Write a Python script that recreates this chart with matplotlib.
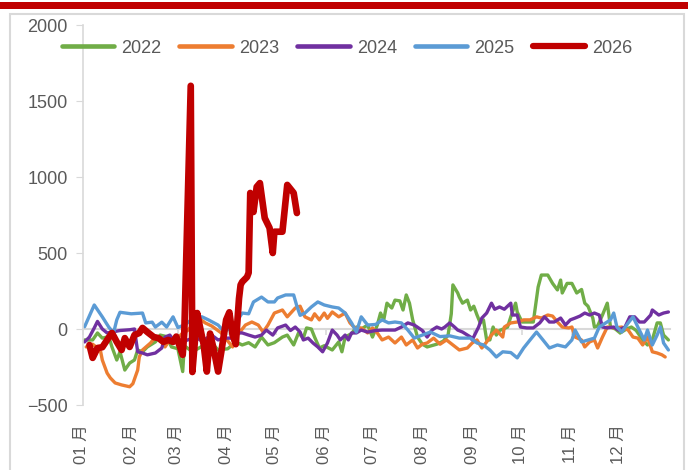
import numpy as np
import matplotlib
matplotlib.use("Agg")
import matplotlib.pyplot as plt
import matplotlib.transforms as mtransforms
from matplotlib.patches import Rectangle

# (day of year, value)
s2022 = [(1,-72),(6,-72),(9,-26),(12,-60),(16,-50),(18,-118),(21,-204),(23,-150),(26,-270),(29,-224),(32,-204),(34,-138),(37,-150),(40,-118),(45,-85),(48,-40),(52,-50),(55,-118),(59,-130),(62,-280),(63,-110),(68,-150),(73,-120),(76,-100),(80,-92),(84,-138),(90,-130),(95,-85),(99,-105),(103,-90),(107,-118),(111,-53),(115,-105),(119,-90),(124,-53),(127,-40),(131,-105),(134,-26),(137,-60),(139,7),(142,0),(144,-53),(147,-125),(150,-110),(155,-138),(159,-85),(161,-150),(163,-53),(167,-30),(170,13),(173,0),(177,26),(180,-53),(183,26),(185,105),(187,60),(189,170),(192,138),(194,190),(197,185),(199,125),(201,224),(203,170),(205,60),(208,-53),(211,-100),(214,-118),(220,-100),(224,-80),(227,-40),(229,100),(230,290),(233,237),(234,210),(236,170),(239,190),(241,125),(243,150),(245,92),(247,40),(249,60),(251,-72),(253,-72),(255,13),(257,-40),(259,-10),(264,13),(266,80),(269,170),(270,112),(273,46),(276,46),(280,46),(283,276),(285,355),(289,355),(292,300),(295,257),(297,322),(298,237),(301,300),(304,300),(307,237),(310,260),(312,170),(314,150),(317,72),(318,13),(320,20),(323,92),(326,170),(328,13),(331,0),(334,-26),(338,0),(341,13),(344,-10),(348,-72),(351,-105),(354,-72),(357,40),(359,40),(361,-40),(364,-72)]
s2023 = [(2,-118),(6,-100),(9,-125),(11,-150),(12,-204),(15,-290),(17,-322),(20,-355),(24,-368),(29,-380),(31,-360),(34,-270),(35,-184),(37,-138),(42,-92),(45,-53),(48,-60),(51,-118),(54,-72),(57,-80),(62,-26),(65,-10),(72,72),(76,40),(80,20),(86,-26),(93,-118),(96,-40),(101,26),(105,46),(109,26),(112,-20),(115,26),(119,105),(124,125),(127,80),(132,138),(135,150),(138,80),(142,60),(144,100),(147,60),(150,105),(152,70),(155,112),(159,80),(163,105),(166,40),(169,7),(173,7),(177,-26),(180,7),(183,-26),(186,-72),(190,-53),(194,-92),(198,-53),(201,-105),(205,-72),(208,-125),(211,-100),(214,-92),(218,-60),(222,-100),(226,-72),(230,-105),(234,-138),(239,-125),(242,-92),(245,-72),(248,-125),(251,-85),(254,-40),(257,-7),(261,-53),(262,13),(266,40),(270,46),(274,60),(278,60),(282,80),(285,72),(289,92),(292,85),(295,46),(298,13),(302,7),(304,13),(306,-53),(310,-72),(312,-118),(315,-85),(318,-72),(320,-125),(323,-53),(326,13),(331,7),(335,13),(339,-7),(342,-53),(345,-60),(348,-105),(351,-53),(354,-150),(357,-158),(360,-170),(362,-184)]
s2024 = [(1,-85),(4,-53),(7,7),(9,50),(12,0),(15,-26),(18,-20),(23,-10),(29,-5),(32,0),(34,-150),(37,-158),(40,-170),(45,-158),(49,-125),(51,-53),(54,-40),(57,-85),(63,-80),(70,-53),(74,-80),(80,-40),(84,-72),(88,-60),(93,-60),(96,-26),(99,-26),(103,-40),(107,-53),(111,-40),(114,-7),(118,-40),(121,7),(126,26),(129,-10),(132,13),(135,-20),(137,-72),(140,-60),(143,-92),(146,-118),(149,-150),(152,-92),(155,-7),(158,-40),(160,-72),(163,-40),(165,-72),(167,-26),(170,-26),(173,-7),(177,-20),(182,-10),(186,-7),(190,-7),(194,-7),(198,13),(202,40),(206,26),(211,-10),(214,-53),(217,-7),(220,13),(223,0),(225,13),(228,40),(231,13),(233,-7),(236,-20),(241,-53),(242,-72),(246,13),(248,72),(251,105),(254,170),(256,130),(259,145),(262,130),(266,170),(267,92),(270,92),(272,13),(276,7),(280,7),(284,40),(287,80),(290,46),(293,46),(297,72),(300,26),(303,60),(306,72),(309,85),(312,105),(315,92),(318,105),(321,92),(323,13),(326,7),(330,13),(333,-7),(337,13),(340,80),(343,80),(346,46),(349,46),(353,92),(354,125),(358,92),(361,105),(364,112)]
s2025 = [(1,15),(7,158),(12,80),(16,13),(19,-26),(21,60),(23,110),(30,100),(37,105),(39,40),(43,45),(45,13),(49,45),(52,13),(56,80),(59,10),(63,26),(70,80),(74,80),(78,60),(84,26),(88,-20),(95,40),(99,105),(103,100),(106,178),(111,210),(115,178),(119,178),(121,204),(126,224),(131,224),(133,150),(135,90),(138,105),(142,145),(146,178),(150,158),(155,145),(159,138),(163,105),(167,40),(170,-20),(173,80),(177,26),(182,30),(186,60),(190,40),(194,46),(198,40),(202,-7),(206,-60),(211,-40),(216,-20),(222,-50),(228,-45),(234,-60),(241,-60),(245,-92),(249,-105),(253,-138),(257,-184),(261,-150),(266,-155),(270,-190),(274,-125),(278,-72),(282,-20),(286,-72),(290,-125),(295,-105),(300,-118),(304,-72),(306,-7),(310,-85),(318,-60),(321,13),(325,40),(328,60),(330,105),(332,13),(335,-20),(339,40),(342,80),(345,13),(349,-72),(351,-7),(354,-105),(357,-40),(359,13),(361,-92),(364,-138)]
s2026 = [(4,-105),(6,-190),(9,-125),(12,-120),(15,-72),(18,-26),(21,-85),(24,-138),(26,-60),(29,-118),(32,-40),(35,-26),(37,7),(40,-20),(44,-53),(47,-60),(50,-85),(53,-72),(56,-85),(58,-50),(62,-170),(63,-20),(67,1600),(68,-283),(71,105),(73,0),(75,-100),(77,-280),(79,-30),(81,-120),(84,-280),(86,-150),(89,60),(91,110),(93,-40),(95,-100),(97,200),(98,290),(99,310),(102,342),(103,370),(104,895),(106,770),(108,935),(110,960),(113,730),(116,665),(118,500),(119,640),(124,640),(127,948),(131,895),(133,763)]

years = ["2022", "2023", "2024", "2025", "2026"]
colors = ["#70AD47", "#ED7D31", "#7030A0", "#5B9BD5", "#C00000"]
widths = [2.4, 2.4, 2.4, 2.4, 4.8]
month_days = [0, 31, 59, 90, 120, 151, 181, 212, 243, 273, 304, 334]
month_labels = ["%02d 月" % m for m in range(1, 13)]
yticks = [-500, 0, 500, 1000, 1500, 2000]

plt.rcParams['font.family'] = ['Liberation Sans', 'Noto Sans CJK SC']
grey = "#595959"
axis_grey = "#D9D9D9"

fig = plt.figure(figsize=(6.88, 4.70), dpi=100)
ax = fig.add_axes([83/688, 1-405/470, 587/688, 380/470])

# frame + red bar like the report template
fig.add_artist(Rectangle((0, 1-9/470), 1, 7/470, transform=fig.transFigure,
                         color="#C00000", lw=0))
fig.add_artist(Rectangle((10/688, -0.05), 674/688, 1.05-14/470, transform=fig.transFigure,
                         fill=False, ec=axis_grey, lw=1.5))

for s, yr, c, w in zip([s2022, s2023, s2024, s2025, s2026], years, colors, widths):
    x, y = np.array(s).T
    ax.plot(x, y, color=c, lw=w, label=yr, solid_joinstyle='round', solid_capstyle='round')

ax.set_xlim(0, 365)
ax.set_ylim(-500, 2000)
ax.set_yticks(yticks)
ax.tick_params(axis='y', colors=axis_grey, labelcolor=grey, labelsize=13, length=5, pad=6)
ax.set_xticks(month_days)
ax.set_xticklabels(month_labels, rotation=90)
ax.tick_params(axis='x', length=0, labelcolor=grey, labelsize=12, pad=14)
shift = mtransforms.ScaledTranslation(-1.5/100, 0, fig.dpi_scale_trans)
for lab in ax.get_xticklabels():
    lab.set_transform(lab.get_transform() + shift)
for sp in ['top', 'right', 'bottom']:
    ax.spines[sp].set_visible(False)
ax.spines['left'].set_color(axis_grey)
ax.spines['left'].set_linewidth(1.2)

# horizontal axis drawn at zero
zero = ax.secondary_xaxis(500/2500)
zero.set_xticks(month_days)
zero.set_xticklabels([])
zero.tick_params(length=4, color=axis_grey, width=1.2)
zero.spines['bottom'].set_color(axis_grey)
zero.spines['bottom'].set_linewidth(1.5)
zero.set_zorder(0.5)

leg = ax.legend(loc='center', bbox_to_anchor=(0.45, 0.939), ncol=5, frameon=False,
                fontsize=13, labelcolor=grey, handlelength=2.9, handletextpad=0.4,
                columnspacing=1.0)
for h, w in zip(leg.get_lines(), [3.3, 3.3, 3.3, 3.3, 4.5]):
    h.set_linewidth(w)

fig.savefig("out.png", dpi=100)
